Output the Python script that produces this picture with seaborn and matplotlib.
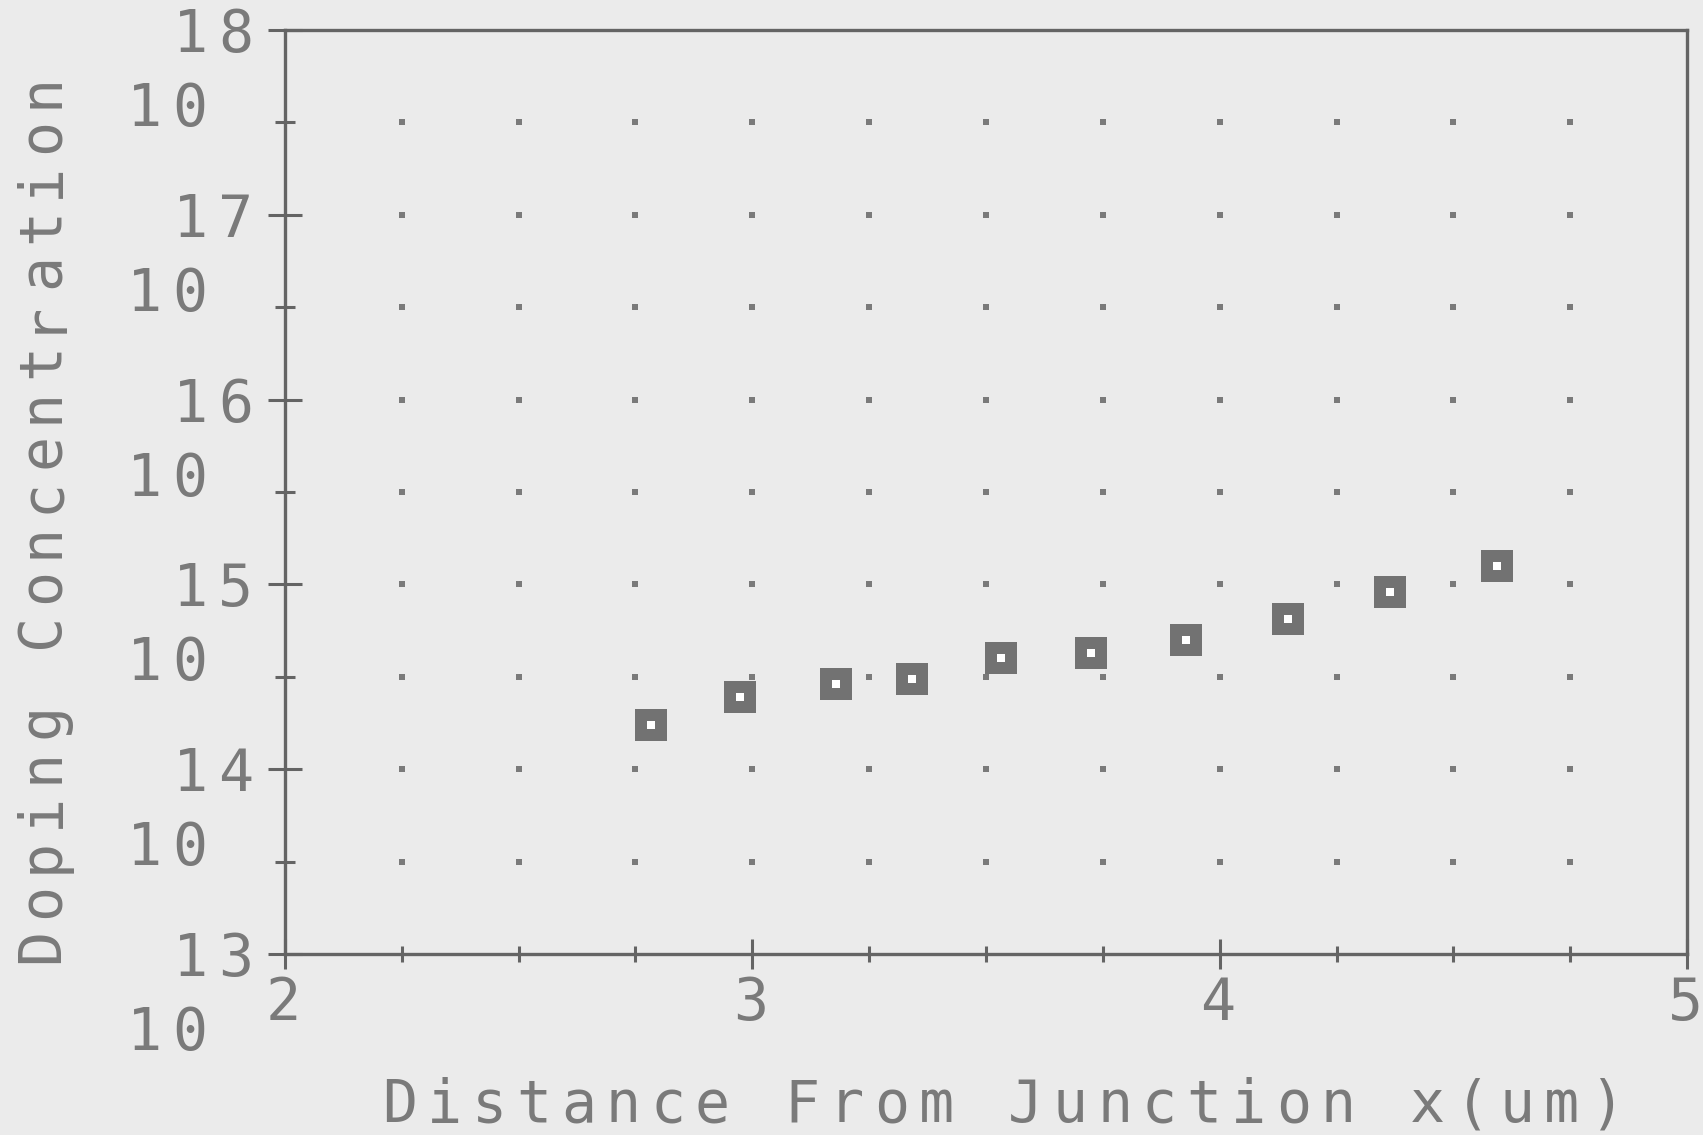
import numpy as np
import pandas as pd
import matplotlib
matplotlib.use('Agg')
import matplotlib.pyplot as plt
import matplotlib.ticker as mticker
from matplotlib.transforms import ScaledTranslation
import seaborn as sns

# values
distance = [2.783, 2.974, 3.179, 3.342, 3.532, 3.725, 3.928, 4.146, 4.365, 4.594]
doping = [1.74e14, 2.45e14, 2.88e14, 3.09e14, 3.98e14, 4.27e14, 5.01e14, 6.46e14, 9.12e14, 1.26e15]
x_ticks = [2, 3, 4, 5]
decades = [13, 14, 15, 16, 17, 18]
x_label = 'Distance From Junction x(um)'
y_label = 'Doping Concentration'

ink = '#646464'
text_ink = '#7a7a7a'
mark_ink = '#727272'
paper = '#ebebeb'

sns.set_theme(style='white')
plt.rcParams['font.family'] = ['DejaVu Sans Mono']

fig = plt.figure(figsize=(17.03, 11.35), dpi=100, facecolor=paper)
ax = fig.add_axes([285 / 1703, 1 - 954 / 1135, 1402 / 1703, 924 / 1135])
ax.set_facecolor(paper)
ax.set_yscale('log')
ax.set_xlim(2, 5)
ax.set_ylim(1e13, 1e18)

# dotted grid at every minor tick crossing
gx = np.arange(2.25, 5, 0.25)
gy = 10.0 ** np.arange(13.5, 18, 0.5)
gxx, gyy = np.meshgrid(gx, gy)
ax.scatter(gxx.ravel(), gyy.ravel(), marker='s', s=14, color=text_ink, linewidths=0, zorder=2)

df = pd.DataFrame({'x': distance, 'N': doping})
sns.scatterplot(data=df, x='x', y='N', marker='s', s=530, color=mark_ink, linewidth=0, ax=ax, zorder=3)
ax.scatter(df['x'], df['N'], marker='s', s=30, color='white', linewidths=0, zorder=4)
ax.set_xlabel('')
ax.set_ylabel('')

ax.xaxis.set_major_locator(mticker.FixedLocator(x_ticks))
ax.xaxis.set_minor_locator(mticker.MultipleLocator(0.25))
ax.yaxis.set_major_locator(mticker.FixedLocator([10.0 ** k for k in decades]))
ax.yaxis.set_minor_locator(mticker.FixedLocator([10.0 ** (k + 0.5) for k in decades[:-1]]))
ax.tick_params(which='both', direction='inout', color=ink, width=2.2,
               bottom=True, left=True, top=False, right=False,
               labelbottom=False, labelleft=False)
ax.tick_params(axis='x', which='major', length=22)
ax.tick_params(axis='x', which='minor', length=12)
ax.tick_params(axis='y', which='major', length=24)
ax.tick_params(axis='y', which='minor', length=15)
for sp in ax.spines.values():
    sp.set_color(ink)
    sp.set_linewidth(2.4)


def spaced_text(x, y, s, transform, dx, dy, pitch, rotation=0, size=42):
    # dot-matrix style: one glyph per cell at a fixed pitch (pixels)
    n = len(s)
    for i, ch in enumerate(s):
        if ch == ' ':
            continue
        k = (i - (n - 1) / 2) * pitch
        ox, oy = (dx, dy + k) if rotation else (dx + k, dy)
        tr = transform + ScaledTranslation(ox / 100, oy / 100, fig.dpi_scale_trans)
        ax.text(x, y, ch, transform=tr, rotation=rotation, rotation_mode='anchor',
                ha='center', va='baseline', fontsize=size, color=text_ink, clip_on=False)


# y tick labels: exponent at the tick, "10" underneath
for k in decades:
    spaced_text(0, 10.0 ** k, str(k), ax.get_yaxis_transform(), -72, -22, 45)
    spaced_text(0, 10.0 ** k, '10', ax.get_yaxis_transform(), -118, -96, 46)

for v in x_ticks:
    spaced_text(v, 0, str(v), ax.get_xaxis_transform(), -2, -66, 45)

spaced_text(0, 0, x_label, ax.transAxes, 718, -168, 44.7)
spaced_text(0, 0, y_label, fig.transFigure, 58, 617, 45, rotation=90)

fig.savefig('out.png', dpi=100, facecolor=paper)
